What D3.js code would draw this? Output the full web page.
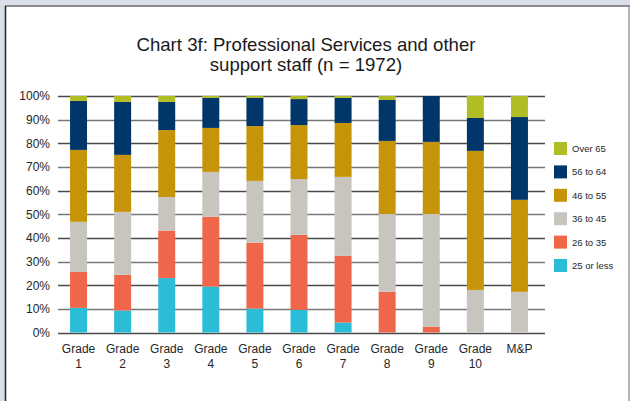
<!DOCTYPE html>
<html>
<head>
<meta charset="utf-8">
<script src="https://cdn.jsdelivr.net/npm/d3@7"></script>
<style>
  body { margin: 0; background: #d9dee8; }
  svg { display: block; font-family: "Liberation Sans", Arial, sans-serif; }
</style>
</head>
<body>
<svg id="chart"></svg>
<script>
// categories (x axis)
var grades = ["Grade 1", "Grade 2", "Grade 3", "Grade 4", "Grade 5", "Grade 6",
              "Grade 7", "Grade 8", "Grade 9", "Grade 10", "M&P"];

// percentage of staff in each age band, per grade
var age25orLess = [10.4, 9.3, 23.0, 19.4, 10.1, 9.6, 4.2, 0, 0, 0, 0];
var age26to35   = [15.2, 15.1, 20.1, 29.5, 27.8, 31.7, 28.2, 17.2, 2.5, 0, 0];
var age36to45   = [21.2, 26.6, 14.2, 19.0, 26.2, 23.6, 33.4, 32.9, 47.6, 18.0, 17.2];
var age46to55   = [30.4, 24.1, 28.3, 18.6, 23.2, 22.8, 22.8, 30.9, 30.5, 58.8, 38.9];
var age56to64   = [20.7, 22.4, 11.9, 12.7, 11.9, 11.0, 10.6, 17.3, 19.4, 13.9, 35.0];
var ageOver65   = [2.1, 2.5, 2.5, 0.8, 0.8, 1.3, 0.8, 1.7, 0, 9.3, 8.9];

var bands = ["25 or less", "26 to 35", "36 to 45", "46 to 55", "56 to 64", "Over 65"];
var yTicks = [0, 10, 20, 30, 40, 50, 60, 70, 80, 90, 100];

var series = [age25orLess, age26to35, age36to45, age46to55, age56to64, ageOver65];

// table for d3.stack
var table = grades.map(function(g, i) {
  var row = { grade: g };
  bands.forEach(function(b, j) { row[b] = series[j][i]; });
  return row;
});

var width = 630, height = 401;

var svg = d3.select("#chart")
    .attr("width", width)
    .attr("height", height);

// frame
svg.append("rect").attr("x", 6).attr("y", 6).attr("width", 624).attr("height", 395).attr("fill", "#fff");
svg.append("line").attr("x1", 5).attr("x2", 630).attr("y1", 6).attr("y2", 6)
    .attr("stroke", "#8a8a8a").attr("stroke-width", 2);
svg.append("line").attr("x1", 5.5).attr("x2", 5.5).attr("y1", 6).attr("y2", 401)
    .attr("stroke", "#222").attr("stroke-width", 1.5);
svg.append("line").attr("x1", 629).attr("x2", 629).attr("y1", 6).attr("y2", 401)
    .attr("stroke", "#999").attr("stroke-width", 1.5);

var color = d3.scaleOrdinal()
    .domain(bands)
    .range(["#2bbcd8", "#f0664a", "#c8c5be", "#c69408", "#00366a", "#b1bd24"]);

var x = d3.scaleBand()
    .domain(grades)
    .range([56.5, 541.5])
    .paddingInner(0.615)
    .paddingOuter(0.3075);

var y = d3.scaleLinear()
    .domain([0, 100])
    .range([332.5, 96]);

// gridlines
svg.append("g")
  .selectAll("line")
  .data(yTicks)
  .enter()
  .append("line")
    .attr("x1", 58)
    .attr("x2", 545)
    .attr("y1", function(d) { return Math.round(y(d)) + 0.5; })
    .attr("y2", function(d) { return Math.round(y(d)) + 0.5; })
    .attr("stroke", function(d) { return d % 20 == 0 ? "#4a4a4a" : "#777"; })
    .attr("stroke-width", 1.6);

// y axis labels
var yAxis = svg.append("g")
    .attr("transform", "translate(50,0)")
    .call(d3.axisLeft(y).tickValues(yTicks).tickSize(0).tickFormat(function(d) { return d + "%"; }));
yAxis.select(".domain").remove();
yAxis.selectAll("text")
    .attr("x", 0)
    .style("font-size", "12px")
    .style("font-family", "Liberation Sans, Arial, sans-serif")
    .attr("fill", "#262626");

// stacked bars
var stacked = d3.stack().keys(bands)(table);

svg.append("g")
  .selectAll("g")
  .data(stacked)
  .enter()
  .append("g")
    .attr("fill", function(d) { return color(d.key); })
  .selectAll("rect")
  .data(function(d) { return d; })
  .enter()
  .append("rect")
    .attr("x", function(d) { return x(d.data.grade); })
    .attr("y", function(d) { return y(d[1]); })
    .attr("height", function(d) { return y(d[0]) - y(d[1]); })
    .attr("width", x.bandwidth());

// x labels (two lines: "Grade" / number)
var xl = svg.append("g")
  .selectAll("text")
  .data(grades)
  .enter()
  .append("text")
    .attr("text-anchor", "middle")
    .style("font-size", "12px")
    .attr("fill", "#262626")
    .attr("transform", function(d) { return "translate(" + (x(d) + x.bandwidth() / 2) + ",353)"; });
xl.selectAll("tspan")
  .data(function(d) { return d.split(" "); })
  .enter()
  .append("tspan")
    .attr("x", 0)
    .attr("dy", function(d, i) { return i == 0 ? 0 : 14.5; })
    .text(function(d) { return d; });

// title
svg.append("text")
    .attr("x", 306)
    .attr("y", 51)
    .attr("text-anchor", "middle")
    .style("font-size", "18.6px")
    .attr("fill", "#1a1a1a")
  .selectAll("tspan")
  .data(["Chart 3f: Professional Services and other", "support staff (n = 1972)"])
  .enter()
  .append("tspan")
    .attr("x", 306)
    .attr("dy", function(d, i) { return i == 0 ? 0 : 19.5; })
    .text(function(d) { return d; });

// legend, top to bottom: Over 65 first
var legendKeys = bands.slice().reverse();
var legend = svg.append("g")
  .selectAll("g")
  .data(legendKeys)
  .enter()
  .append("g")
    .attr("transform", function(d, i) { return "translate(554," + (142 + i * 23.4) + ")"; });
legend.append("rect")
    .attr("width", 13)
    .attr("height", 13)
    .attr("fill", function(d) { return color(d); });
legend.append("text")
    .attr("x", 18)
    .attr("y", 10)
    .style("font-size", "9.5px")
    .attr("fill", "#262626")
    .text(function(d) { return d; });
</script>
</body>
</html>
